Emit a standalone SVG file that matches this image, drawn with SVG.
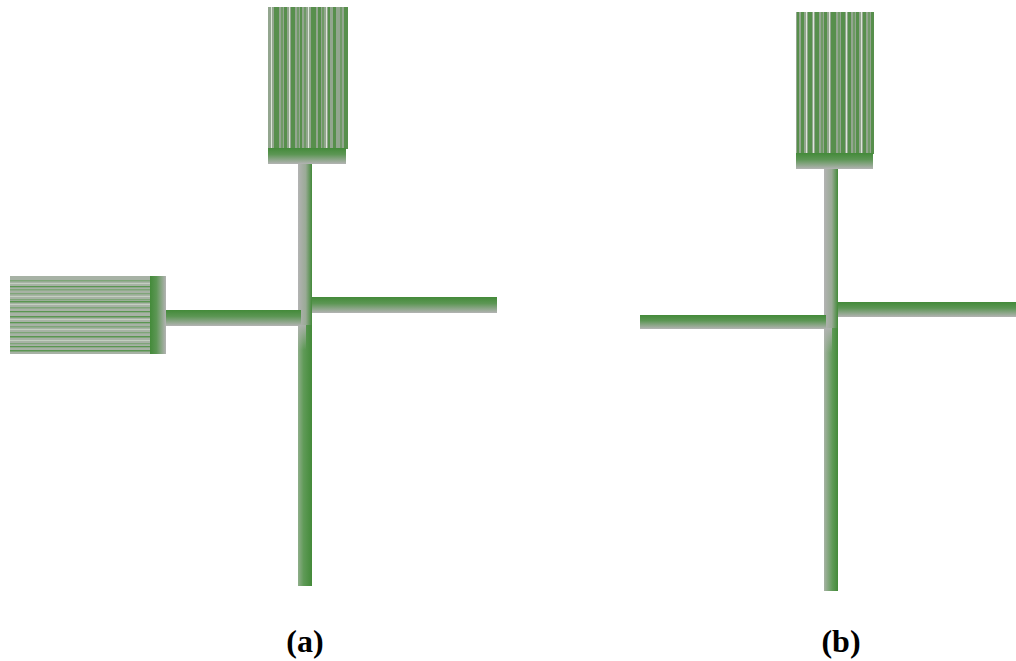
<svg xmlns="http://www.w3.org/2000/svg" width="1016" height="661" viewBox="0 0 1016 661">
<style>
.gv{fill:#578f4c}.mv{fill:#6f9a66}.wv{fill:#dde6d9}
.gh{fill:#5a9651}.mh{fill:#7ea578}.wh{fill:#c3cfc0}
.lbl{font-family:"Liberation Serif",serif;font-weight:bold;font-size:32px;fill:#000;text-anchor:middle}
</style>
<defs>
<linearGradient id="td" x1="0" y1="0" x2="0" y2="1"><stop offset="0" stop-color="#438a39"/><stop offset="0.4" stop-color="#5c9654"/><stop offset="1" stop-color="#b3b3b3"/></linearGradient>
<linearGradient id="lr" x1="0" y1="0" x2="1" y2="0"><stop offset="0" stop-color="#b3b3b3"/><stop offset="0.55" stop-color="#9aaa96"/><stop offset="1" stop-color="#438a39"/></linearGradient>
<linearGradient id="low" x1="0" y1="0" x2="1" y2="0"><stop offset="0" stop-color="#8fae8a"/><stop offset="0.4" stop-color="#5f9a57"/><stop offset="1" stop-color="#438a39"/></linearGradient>
<linearGradient id="lowb" x1="0" y1="0" x2="1" y2="0"><stop offset="0" stop-color="#a7b3a4"/><stop offset="0.6" stop-color="#5f9a57"/><stop offset="1" stop-color="#438a39"/></linearGradient>
<linearGradient id="rl" x1="0" y1="0" x2="1" y2="0"><stop offset="0" stop-color="#438a39"/><stop offset="0.4" stop-color="#5c9654"/><stop offset="1" stop-color="#b3b3b3"/></linearGradient>
<linearGradient id="fade" x1="0" y1="0" x2="0" y2="1"><stop offset="0" stop-color="#b3b3b3" stop-opacity="0.9"/><stop offset="1" stop-color="#b3b3b3" stop-opacity="0"/></linearGradient>
</defs>

<g id="connectors">
<rect id="a-stem-top" x="298" y="163" width="14" height="162" fill="url(#lr)"/>
<rect id="a-stem-bottom" x="298" y="325" width="14" height="261" fill="url(#low)"/>
<rect x="298" y="325" width="8" height="25" fill="url(#fade)"/>
<rect id="a-arm-left" x="165" y="310" width="136" height="16" fill="url(#td)"/>
<rect id="a-arm-right" x="312" y="297" width="185" height="16" fill="url(#td)"/>
<rect id="b-stem-top" x="824" y="168" width="14" height="160" fill="url(#lr)"/>
<rect id="b-stem-bottom" x="824" y="328" width="14" height="263" fill="url(#lowb)"/>
<rect x="824" y="328" width="8" height="25" fill="url(#fade)"/>
<rect id="b-arm-left" x="640" y="315" width="186" height="14" fill="url(#td)"/>
<rect id="b-arm-right" x="838" y="302" width="178" height="15" fill="url(#td)"/>
</g>

<g id="a-top-comb">
<rect x="268" y="7" width="80" height="142" fill="#93a68f"/>
<rect class="wv" x="271" y="7" width="1" height="142"/>
<rect class="gv" x="274" y="7" width="5" height="142"/>
<rect class="mv" x="281" y="7" width="2" height="142"/>
<rect class="gv" x="284" y="7" width="3" height="142"/>
<rect class="wv" x="289" y="7" width="1" height="142"/>
<rect class="gv" x="291" y="7" width="4" height="142"/>
<rect class="mv" x="297" y="7" width="2" height="142"/>
<rect class="gv" x="300" y="7" width="2" height="142"/>
<rect class="mv" x="304" y="7" width="2" height="142"/>
<rect class="wv" x="308" y="7" width="1" height="142"/>
<rect class="gv" x="311" y="7" width="5" height="142"/>
<rect class="gv" x="318" y="7" width="3" height="142"/>
<rect class="mv" x="322" y="7" width="2" height="142"/>
<rect class="wv" x="326" y="7" width="1" height="142"/>
<rect class="gv" x="328" y="7" width="2" height="142"/>
<rect class="gv" x="333" y="7" width="3" height="142"/>
<rect class="mv" x="340" y="7" width="2" height="142"/>
<rect class="gv" x="344" y="7" width="4" height="142"/>
<rect x="268" y="148" width="78" height="16" fill="url(#td)"/>
</g>

<g id="a-left-comb">
<rect x="10" y="276" width="141" height="78" fill="#a7b2a5"/>
<rect class="mh" x="10" y="280" width="141" height="1.5"/>
<rect class="wh" x="10" y="283" width="141" height="1"/>
<rect class="gh" x="10" y="286" width="141" height="1.3"/>
<rect class="mh" x="10" y="289" width="141" height="1.5"/>
<rect class="mh" x="10" y="293" width="141" height="1.3"/>
<rect class="wh" x="10" y="296" width="141" height="1"/>
<rect class="mh" x="10" y="299" width="141" height="1.3"/>
<rect class="gh" x="10" y="301" width="141" height="1.5"/>
<rect class="wh" x="10" y="304" width="141" height="1"/>
<rect class="mh" x="10" y="307" width="141" height="1.5"/>
<rect class="gh" x="10" y="311" width="141" height="1.3"/>
<rect class="gh" x="10" y="316" width="141" height="1.5"/>
<rect class="wh" x="10" y="319" width="141" height="1"/>
<rect class="gh" x="10" y="322" width="141" height="1.3"/>
<rect class="mh" x="10" y="326" width="141" height="1.5"/>
<rect class="wh" x="10" y="329" width="141" height="1"/>
<rect class="mh" x="10" y="332" width="141" height="1.3"/>
<rect class="gh" x="10" y="336" width="141" height="1.5"/>
<rect class="wh" x="10" y="340" width="141" height="1"/>
<rect class="mh" x="10" y="343" width="141" height="1.3"/>
<rect class="gh" x="10" y="346" width="141" height="1.3"/>
<rect class="gh" x="10" y="350" width="141" height="1.5"/>
<rect x="150" y="276" width="16" height="78" fill="url(#rl)"/>
</g>

<g id="b-top-comb">
<rect x="796" y="12" width="78" height="142" fill="#93a68f"/>
<rect class="gv" x="797" y="12" width="2" height="142"/>
<rect class="gv" x="801" y="12" width="3" height="142"/>
<rect class="wv" x="806" y="12" width="1" height="142"/>
<rect class="gv" x="808" y="12" width="4" height="142"/>
<rect class="wv" x="813" y="12" width="1" height="142"/>
<rect class="gv" x="815" y="12" width="4" height="142"/>
<rect class="mv" x="821" y="12" width="2" height="142"/>
<rect class="gv" x="824" y="12" width="3" height="142"/>
<rect class="wv" x="829" y="12" width="1" height="142"/>
<rect class="gv" x="831" y="12" width="5" height="142"/>
<rect class="mv" x="838" y="12" width="2" height="142"/>
<rect class="gv" x="841" y="12" width="4" height="142"/>
<rect class="wv" x="846" y="12" width="1" height="142"/>
<rect class="gv" x="848" y="12" width="3" height="142"/>
<rect class="mv" x="853" y="12" width="2" height="142"/>
<rect class="gv" x="856" y="12" width="3" height="142"/>
<rect class="wv" x="861" y="12" width="1" height="142"/>
<rect class="gv" x="863" y="12" width="3" height="142"/>
<rect class="mv" x="868" y="12" width="2" height="142"/>
<rect class="gv" x="871" y="12" width="3" height="142"/>
<rect x="796" y="153" width="77" height="16" fill="url(#td)"/>
</g>

<g id="labels">
<text class="lbl" x="305" y="652">(a)</text>
<text class="lbl" x="841" y="652">(b)</text>
</g>
</svg>
